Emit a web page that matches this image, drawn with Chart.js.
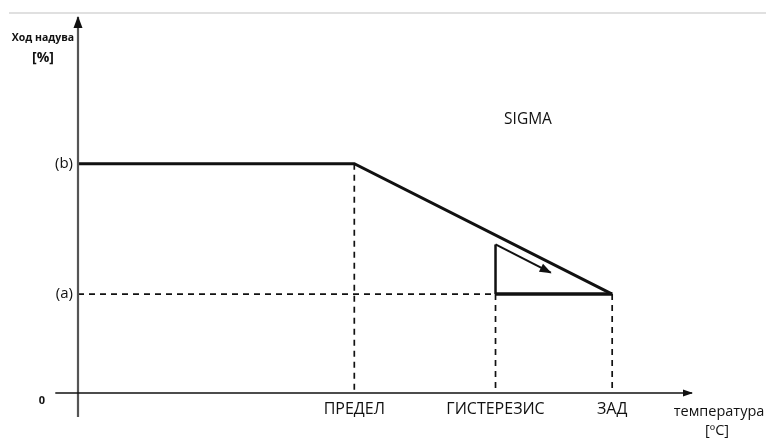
<!DOCTYPE html>
<html lang="ru">
<head>
<meta charset="UTF-8">
<title>SIGMA</title>
<script src="https://cdn.jsdelivr.net/npm/chart.js"></script>
<style>
body {
    margin: 0;
    background: #fff;
    font-family: 'Open Sans', sans-serif;
}
.wrap {
    position: relative;
    width: 766px;
    height: 441px;
}
.topLine {
    position: absolute;
    top: 12px;
    left: 9px;
    right: 0;
    border-top: 2px solid #e0e0e0;
}
</style>
</head>
<body>
<div class="wrap">
    <div class="topLine"></div>
    <canvas id="sigmaChart"></canvas>
</div>
<script>
// x positions of the named temperatures, y levels of the blow stroke
const xLabels = ['ПРЕДЕЛ', 'ГИСТЕРЕЗИС', 'ЗАД'];
const xMarks = [45, 68, 87];
const yLabels = ['(a)', '(b)'];
const yMarks = [26.3, 61];
const hystTop = 39.5;
const hystArrowEnd = [77, 32];
const xAxisRange = [-3.7, 100];
const yAxisRange = [-6.4, 100];

const limitX = xMarks[0], hystX = xMarks[1], setX = xMarks[2];
const levelA = yMarks[0], levelB = yMarks[1];

function line(points, color, width, dash, arrow) {
    return {
        data: points.map(p => ({ x: p[0], y: p[1] })),
        showLine: true,
        borderColor: color,
        backgroundColor: color,
        borderWidth: width,
        borderDash: dash || [],
        pointRadius: 0,
        tension: 0,
        clip: false,
        arrowEnd: !!arrow
    };
}

const datasets = [
    // axes
    line([[xAxisRange[0], 0], [xAxisRange[1], 0]], '#111', 1.5, null, true),
    line([[0, yAxisRange[0]], [0, yAxisRange[1]]], '#555', 2.2, null, true),
    // dashed guides
    line([[limitX, levelB], [limitX, 0]], '#111', 1.7, [6, 5]),
    line([[0, levelA], [hystX, levelA]], '#111', 1.7, [6, 5]),
    line([[hystX, levelA], [hystX, 0]], '#111', 1.7, [6, 5]),
    line([[setX, levelA], [setX, 0]], '#111', 1.7, [6, 5]),
    // blow curve
    line([[0, levelB], [limitX, levelB], [setX, levelA]], '#111', 3),
    // hysteresis triangle
    line([[hystX, hystTop], [hystX, levelA]], '#111', 2.5),
    line([[hystX, levelA], [setX, levelA]], '#111', 3.5),
    line([[hystX, hystTop], hystArrowEnd], '#111', 2, null, true)
];

const overlay = {
    id: 'overlay',
    afterDatasetsDraw(chart) {
        const ctx = chart.ctx;
        const xs = chart.scales.x, ys = chart.scales.y;
        ctx.save();
        // arrow heads
        chart.data.datasets.forEach((ds, i) => {
            if (!ds.arrowEnd) return;
            const pts = ds.data;
            const a = pts[pts.length - 2], b = pts[pts.length - 1];
            const x1 = xs.getPixelForValue(a.x), y1 = ys.getPixelForValue(a.y);
            const x2 = xs.getPixelForValue(b.x), y2 = ys.getPixelForValue(b.y);
            const ang = Math.atan2(y2 - y1, x2 - x1);
            const len = i === 0 ? 9 : 11, half = i === 0 ? 3.5 : 4.5;
            ctx.fillStyle = '#111';
            ctx.beginPath();
            ctx.moveTo(x2 + Math.cos(ang) * 1, y2 + Math.sin(ang) * 1);
            ctx.lineTo(x2 - Math.cos(ang) * len - Math.sin(ang) * half, y2 - Math.sin(ang) * len + Math.cos(ang) * half);
            ctx.lineTo(x2 - Math.cos(ang) * len + Math.sin(ang) * half, y2 - Math.sin(ang) * len - Math.cos(ang) * half);
            ctx.closePath();
            ctx.fill();
        });

        ctx.fillStyle = '#111';
        ctx.textBaseline = 'middle';

        // x labels
        ctx.textAlign = 'center';
        ctx.font = '16px "Open Sans"';
        xLabels.forEach((t, i) => {
            ctx.fillText(t, xs.getPixelForValue(xMarks[i]), ys.getPixelForValue(0) + 16);
        });

        // y labels
        ctx.textAlign = 'right';
        ctx.font = '15px "Open Sans"';
        yLabels.forEach((t, i) => {
            ctx.fillText(t, xs.getPixelForValue(0) - 5, ys.getPixelForValue(yMarks[i]));
        });

        // origin
        ctx.textAlign = 'center';
        ctx.font = 'bold 11px "Open Sans"';
        ctx.fillText('0', xs.getPixelForValue(0) - 36, ys.getPixelForValue(0) + 8);

        // axis titles
        ctx.font = 'bold 10.5px "Open Sans"';
        ctx.fillText('Ход надува', 43, 38);
        ctx.font = 'bold 14px "Open Sans"';
        ctx.fillText('[%]', 43, 58);
        ctx.font = '14.5px "Open Sans"';
        ctx.fillText('температура', 719, 412);
        ctx.fillText('[ºC]', 717, 431);

        ctx.font = '15.5px "Open Sans"';
        ctx.fillText('SIGMA', 528, 120);
        ctx.restore();
    }
};

new Chart(document.getElementById('sigmaChart'), {
    type: 'scatter',
    data: { datasets: datasets },
    options: {
        responsive: true,
        maintainAspectRatio: false,
        animation: false,
        layout: { padding: { left: 78, right: 74, top: 17, bottom: 48 } },
        plugins: { legend: { display: false }, tooltip: { enabled: false } },
        scales: {
            x: { type: 'linear', min: 0, max: 100, display: false },
            y: { type: 'linear', min: 0, max: 100, display: false }
        }
    },
    plugins: [overlay]
});
</script>
</body>
</html>
